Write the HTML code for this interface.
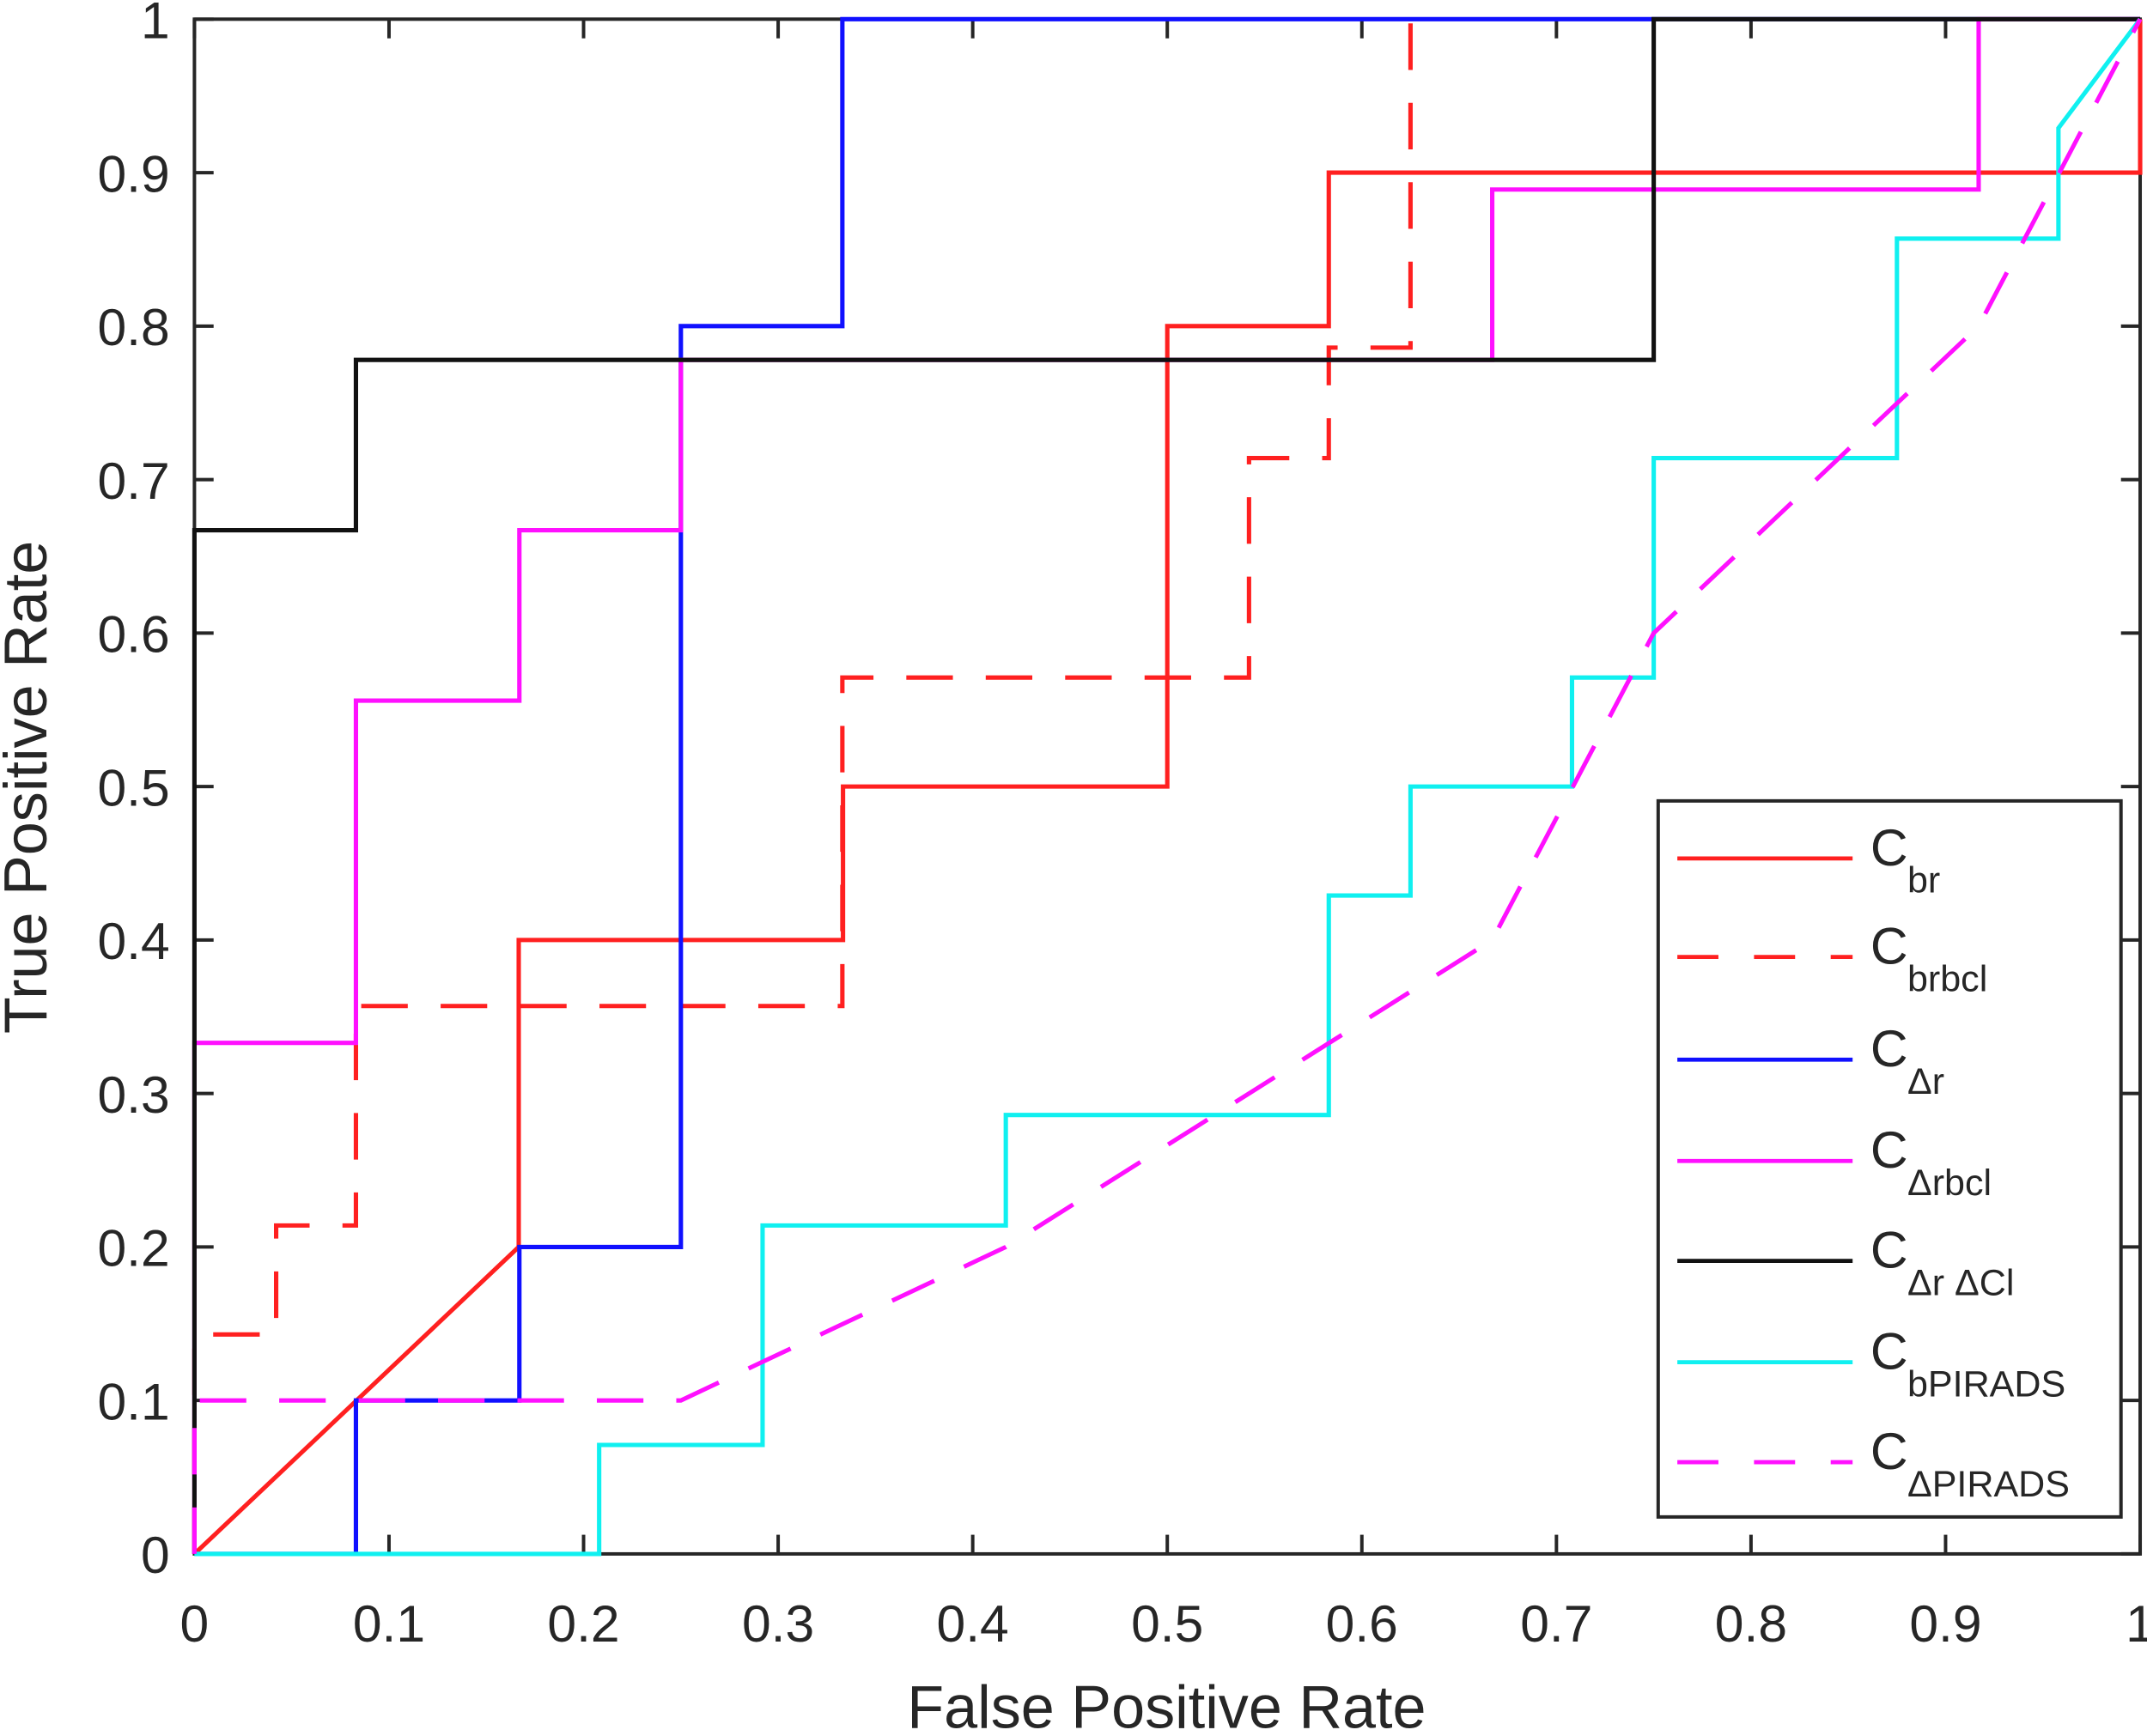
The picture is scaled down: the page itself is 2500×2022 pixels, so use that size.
<!DOCTYPE html>
<html><head><meta charset="utf-8"><style>
html,body{margin:0;padding:0;background:#fff;}
svg{display:block;}
text{font-family:"Liberation Sans",sans-serif;fill:#262626;}
</style></head><body>
<svg id="s" width="2500" height="2022" viewBox="0 0 1568 1268" preserveAspectRatio="none" xmlns="http://www.w3.org/2000/svg">
<rect width="1568" height="1268" fill="#fff"/>
<g id="ticks" stroke="#262626" stroke-width="2.5"></g>
<rect x="142" y="14" width="1421" height="1121" fill="none" stroke="#262626" stroke-width="2.5"/>
<g id="lines" fill="none"></g>
<g id="labels" font-size="38"></g>
<text x="852" y="1262" font-size="44" text-anchor="middle">False Positive Rate</text>
<text transform="translate(34,575) rotate(-90)" font-size="44" text-anchor="middle">True Positive Rate</text>
<rect x="1211" y="585" width="338" height="523" fill="#fff" stroke="#262626" stroke-width="2.5"/>
<g id="leg"></g>
</svg>
<script>
const X=f=>142+1421*f, Y=t=>1135-1121*t, NS="http://www.w3.org/2000/svg";
function el(p,n,a,txt){const e=document.createElementNS(NS,n);for(const k in a)e.setAttribute(k,a[k]);if(txt!==undefined)e.textContent=txt;document.getElementById(p).appendChild(e);return e;}
for(let i=0;i<=10;i++){const v=i/10,x=X(v),y=Y(v);
 el("ticks","line",{x1:x,y1:1135,x2:x,y2:1121});el("ticks","line",{x1:x,y1:14,x2:x,y2:28});
 el("ticks","line",{x1:142,y1:y,x2:156,y2:y});el("ticks","line",{x1:1563,y1:y,x2:1549,y2:y});
 const lab=i==0?"0":i==10?"1":"0."+i;
 el("labels","text",{x:x,y:1199,"text-anchor":"middle"},lab);
 el("labels","text",{x:124,y:y+14,"text-anchor":"end"},lab);}
const S=[
["#ff2020","",[[0,0],[1/6,0.2],[1/6,0.4],[1/3,0.4],[1/3,0.5],[0.5,0.5],[0.5,0.8],[0.583,0.8],[0.583,0.9],[1,0.9],[1,1]]],
["#ff2020","34 24",[[0,0],[0,0.143],[0.042,0.143],[0.042,0.214],[0.083,0.214],[0.083,0.357],[0.333,0.357],[0.333,0.571],[0.542,0.571],[0.542,0.714],[0.583,0.714],[0.583,0.786],[0.625,0.786],[0.625,1]]],
["#1010ff","",[[0,0],[0.083,0],[0.083,0.1],[0.167,0.1],[0.167,0.2],[0.25,0.2],[0.25,0.8],[0.333,0.8],[0.333,1],[1,1]]],
["#ff10ff","",[[0,0],[0,0.333],[0.083,0.333],[0.083,0.556],[0.167,0.556],[0.167,0.667],[0.25,0.667],[0.25,0.778],[0.667,0.778],[0.667,0.889],[0.917,0.889],[0.917,1],[1,1]]],
["#111","",[[0,0],[0,0.667],[0.083,0.667],[0.083,0.778],[0.75,0.778],[0.75,1],[1,1]]],
["#10f0f0","",[[0,0],[0.208,0],[0.208,0.071],[0.292,0.071],[0.292,0.214],[0.417,0.214],[0.417,0.286],[0.583,0.286],[0.583,0.429],[0.625,0.429],[0.625,0.5],[0.708,0.5],[0.708,0.571],[0.75,0.571],[0.75,0.714],[0.875,0.714],[0.875,0.857],[0.958,0.857],[0.958,0.929],[1,1]]],
["#ff10ff","34 24",[[0,0],[0,0.1],[0.25,0.1],[0.417,0.2],[0.667,0.4],[0.75,0.6],[0.917,0.8],[1,1]]]];
const subs=["br","brbcl","\u0394r","\u0394rbcl","\u0394r \u0394Cl","bPIRADS","\u0394PIRADS"];
const ly=[627,699,774,848,921,995,1068];
S.forEach((s,i)=>{const a={points:s[2].map(p=>X(p[0])+","+Y(p[1])).join(" "),stroke:s[0],"stroke-width":3.2};
 if(s[1])a["stroke-dasharray"]=s[1];el("lines","polyline",a);
 const b={x1:1225,y1:ly[i],x2:1353,y2:ly[i],stroke:s[0],"stroke-width":3};if(s[1])b["stroke-dasharray"]="30 26";el("leg","line",b);
 el("leg","text",{x:1366,y:ly[i]+5,"font-size":38},"C");
 el("leg","text",{x:1393,y:ly[i]+25,"font-size":27},subs[i]);});
</script>
</body></html>
